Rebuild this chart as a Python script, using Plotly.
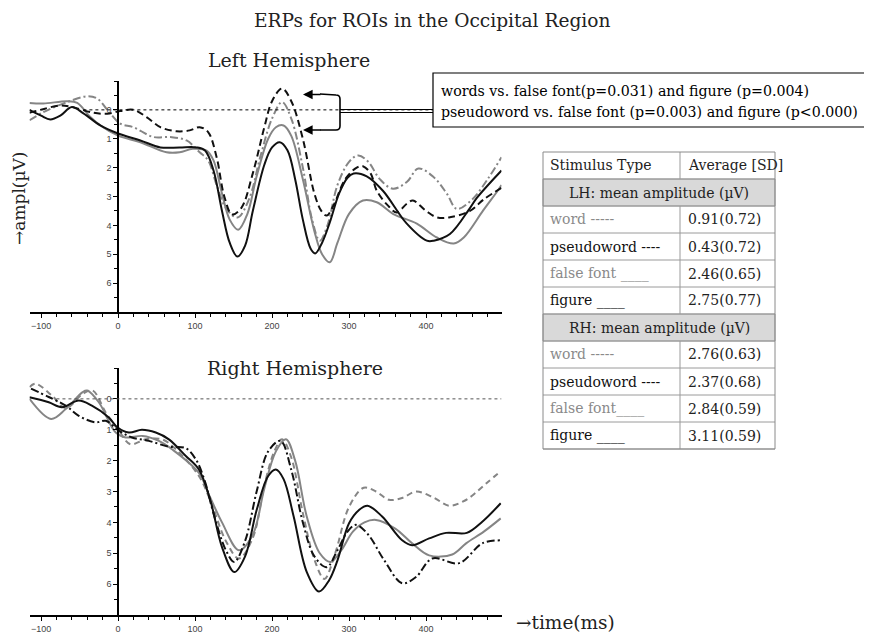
import plotly.graph_objects as go

# page body margin compensation (browser default 8px)
OX, OY = 8, 8
W, H = 872, 634
FW, FH = W - OX, H - OY


def px(x):
    return (x - OX) / FW


def py(y):
    return 1 - (y - OY) / FH


# ---------------- data: Left Hemisphere ----------------
lh_word_t = [-115, -97, -66, -40, -27, -10, 3, 20, 46, 68, 89, 106, 117, 128, 140, 155, 170, 185, 200, 213, 225, 240, 252, 262, 272, 285, 300, 312, 325, 340, 357, 375, 390, 410, 427, 440, 460, 480, 498]
lh_word_v = [0.36, 0.08, -0.27, -0.47, -0.39, 0.13, 0.48, 0.6, 0.94, 0.94, 1.06, 1.47, 1.75, 2.6, 3.4, 3.73, 3.1, 1.6, 0.3, -0.27, 0.3, 2.0, 3.8, 4.53, 4.0, 2.6, 1.8, 1.58, 1.8, 2.4, 2.73, 2.5, 2.03, 2.33, 2.9, 3.43, 3.1, 2.4, 1.64]

lh_pseudo_t = [-115, -101, -75, -60, -32, -14, 3, 20, 37, 55, 76, 93, 106, 117, 128, 138, 148, 160, 175, 190, 200, 213, 225, 240, 255, 264, 271, 280, 295, 310, 318, 328, 336, 350, 362, 375, 383, 400, 414, 431, 457, 475, 498]
lh_pseudo_v = [0.1, 0.0, -0.15, -0.1, 0.1, 0.13, 0.04, 0.0, 0.25, 0.6, 0.74, 0.71, 0.6, 0.77, 1.64, 3.0, 3.62, 3.4, 2.2, 0.6, -0.3, -0.74, -0.3, 1.0, 2.9, 3.5, 3.66, 3.3, 2.4, 2.0, 1.95, 2.2, 2.8, 3.3, 3.55, 3.25, 3.14, 3.5, 3.72, 3.72, 3.5, 3.1, 2.7]

lh_false_t = [-115, -97, -66, -53, -36, -23, 0, 29, 63, 80, 97, 115, 124, 135, 145, 156, 168, 180, 195, 205, 215, 225, 240, 255, 265, 275, 285, 300, 318, 336, 357, 388, 414, 436, 449, 474, 493, 498]
lh_false_v = [-0.24, -0.22, -0.3, -0.24, 0.25, 0.54, 0.89, 1.12, 1.47, 1.47, 1.35, 1.41, 1.75, 2.9, 3.8, 4.15, 3.6, 2.3, 1.0, 0.6, 0.54, 0.9, 2.4, 4.2, 5.0, 5.28, 4.6, 3.6, 3.14, 3.2, 3.6, 3.94, 4.42, 4.63, 4.42, 3.49, 2.8, 2.6]

lh_figure_t = [-115, -100, -88, -75, -60, -45, -23, 0, 29, 55, 80, 102, 113, 124, 135, 145, 155, 165, 175, 190, 200, 210, 220, 230, 240, 250, 256, 265, 275, 287, 298, 306, 323, 344, 375, 401, 410, 431, 457, 466, 498]
lh_figure_v = [0.0, 0.2, 0.33, 0.2, -0.1, 0.12, 0.54, 0.82, 1.06, 1.3, 1.3, 1.3, 1.41, 2.1, 3.5, 4.6, 5.08, 4.7, 3.5, 1.9, 1.3, 1.12, 1.4, 2.4, 3.8, 4.8, 4.97, 4.6, 3.9, 2.9, 2.35, 2.2, 2.3, 2.8, 3.94, 4.53, 4.53, 4.3, 3.4, 3.05, 2.1]

# ---------------- data: Right Hemisphere ----------------
rh_word_t = [-115, -107, -86, -68, -46, -33, -16, 1, 16, 36, 57, 75, 105, 120, 140, 157, 175, 190, 203, 213, 225, 240, 255, 268, 282, 300, 319, 335, 352, 370, 387, 410, 430, 450, 464, 480, 497]
rh_word_v = [-0.38, -0.49, -0.11, 0.3, -0.16, -0.27, 0.44, 1.03, 1.47, 1.31, 1.31, 1.63, 2.5, 3.3, 4.6, 5.17, 4.5, 2.8, 1.7, 1.31, 1.9, 3.7, 5.2, 5.83, 5.0, 3.5, 2.88, 3.0, 3.27, 3.2, 3.0, 3.2, 3.46, 3.3, 3.05, 2.7, 2.34]

rh_pseudo_t = [-113, -90, -68, -51, -29, -16, 1, 18, 40, 66, 88, 101, 112, 125, 140, 151, 165, 180, 195, 211, 225, 240, 255, 271, 285, 298, 309, 325, 345, 369, 387, 408, 443, 473, 497]
rh_pseudo_v = [-0.33, -0.06, 0.22, 0.55, 0.76, 0.71, 1.03, 1.25, 1.36, 1.55, 1.6, 1.96, 2.61, 3.8, 4.9, 5.28, 4.6, 3.0, 1.7, 1.36, 2.3, 4.0, 5.1, 5.45, 4.9, 4.3, 4.08, 4.4, 5.2, 5.97, 5.77, 5.17, 5.32, 4.68, 4.58]

rh_false_t = [-115, -87, -68, -46, -40, -25, -3, 10, 32, 53, 70, 105, 118, 135, 157, 175, 190, 205, 218, 230, 245, 262, 276, 290, 305, 320, 335, 360, 382, 404, 434, 452, 475, 497]
rh_false_v = [0.0, 0.65, 0.33, -0.22, -0.27, 0.11, 1.09, 1.25, 1.2, 1.36, 1.63, 2.4, 3.1, 4.0, 4.9, 4.4, 2.9, 1.7, 1.31, 2.0, 3.8, 5.0, 5.28, 4.9, 4.3, 4.0, 3.92, 4.2, 4.68, 5.07, 5.04, 4.68, 4.3, 3.87]

rh_figure_t = [-115, -90, -73, -51, -34, -12, -1, 14, 31, 49, 66, 88, 105, 120, 135, 151, 165, 180, 195, 205, 215, 228, 245, 261, 274, 285, 300, 313, 324, 343, 369, 382, 404, 426, 453, 473, 497]
rh_figure_v = [-0.05, 0.11, 0.27, 0.05, 0.22, 0.6, 0.92, 1.09, 1.0, 1.09, 1.31, 1.85, 2.29, 3.3, 4.8, 5.61, 5.1, 3.6, 2.5, 2.29, 2.6, 3.8, 5.6, 6.24, 5.88, 5.23, 4.03, 3.6, 3.46, 3.81, 4.58, 4.74, 4.52, 4.34, 4.34, 3.98, 3.38]

# ---------------- axis ticks ----------------
x_ticks = [-100, 0, 100, 200, 300, 400]
y_ticks = [0, 1, 2, 3, 4, 5, 6]

# ---------------- table data ----------------
table_header = ["Stimulus Type", "Average [SD]"]
lh_group = "LH: mean amplitude (µV)"
rh_group = "RH: mean amplitude (µV)"
lh_labels = ["word -----", "pseudoword ----", "false font ____", "figure ____"]
lh_values = ["0.91(0.72)", "0.43(0.72)", "2.46(0.65)", "2.75(0.77)"]
rh_labels = ["word -----", "pseudoword ----", "false font____", "figure ____"]
rh_values = ["2.76(0.63)", "2.37(0.68)", "2.84(0.59)", "3.11(0.59)"]
label_colors = ["#8a8a8a", "#111111", "#8a8a8a", "#111111"]

note_lines = [
    "words vs. false font(p=0.031) and figure (p=0.004)",
    "pseudoword vs. false font (p=0.003) and figure (p<0.000)",
]

GRAY = "#858585"
BLACK = "#111111"

fig = go.Figure()

styles_top = [
    (lh_word_t, lh_word_v, GRAY, "8px,3px,2px,3px"),
    (lh_false_t, lh_false_v, GRAY, "solid"),
    (lh_pseudo_t, lh_pseudo_v, BLACK, "7px,4px"),
    (lh_figure_t, lh_figure_v, BLACK, "solid"),
]
styles_bot = [
    (rh_word_t, rh_word_v, GRAY, "6px,4px"),
    (rh_false_t, rh_false_v, GRAY, "solid"),
    (rh_pseudo_t, rh_pseudo_v, BLACK, "8px,3px,2px,3px"),
    (rh_figure_t, rh_figure_v, BLACK, "solid"),
]
for t, v, c, d in styles_top:
    fig.add_trace(go.Scatter(x=t, y=v, mode="lines", xaxis="x", yaxis="y",
                             line=dict(color=c, width=2, dash=d, shape="spline", smoothing=1),
                             showlegend=False, hoverinfo="skip"))
for t, v, c, d in styles_bot:
    fig.add_trace(go.Scatter(x=t, y=v, mode="lines", xaxis="x2", yaxis="y2",
                             line=dict(color=c, width=2, dash=d, shape="spline", smoothing=1),
                             showlegend=False, hoverinfo="skip"))

XR = [-115, 498]
x_dom = [px(29.5), px(501.5)]
zero_pos = px(118)
tickfont = dict(family="Liberation Sans, Arial", size=9, color="#444444")


def xaxis_cfg(anchor):
    return dict(domain=x_dom, range=XR, anchor=anchor, showgrid=False, zeroline=False,
                showline=True, linecolor="black", linewidth=1.5,
                tickvals=x_ticks, ticks="outside", ticklen=4, tickcolor="black",
                tickfont=tickfont,
                minor=dict(dtick=20, tick0=0, ticks="outside", ticklen=3, tickcolor="black"))


def yaxis_cfg(dom):
    return dict(domain=dom, range=[7, -1], anchor="free", position=zero_pos,
                showgrid=False, zeroline=False, showline=True, linecolor="black", linewidth=1.5,
                tickvals=y_ticks, ticks="outside", ticklen=4, tickcolor="black",
                tickfont=tickfont,
                minor=dict(dtick=0.5, tick0=0, ticks="outside", ticklen=3, tickcolor="black"))


fig.update_layout(
    width=FW, height=FH, margin=dict(l=0, r=0, t=0, b=0),
    paper_bgcolor="white", plot_bgcolor="rgba(0,0,0,0)",
    xaxis=xaxis_cfg("y"), yaxis=yaxis_cfg([py(312), py(81)]),
    xaxis2=xaxis_cfg("y2"), yaxis2=yaxis_cfg([py(615), py(368)]),
)

shapes = []
annots = []
# zero dotted lines
shapes.append(dict(type="line", xref="x", yref="y", x0=-45, x1=498, y0=0, y1=0,
                   line=dict(color="black", width=1, dash="dot")))
shapes.append(dict(type="line", xref="x2", yref="y2", x0=-80, x1=498, y0=0, y1=0,
                   line=dict(color="#555555", width=1, dash="dot")))

SERIF = "DejaVu Serif, serif"


def text_at(s, x, y, size, color="#222", xanchor="center", angle=0):
    annots.append(dict(text=s, x=px(x), y=py(y), xref="paper", yref="paper", xanchor=xanchor,
                       yanchor="middle", textangle=angle, showarrow=False,
                       font=dict(family=SERIF, size=size, color=color)))


# titles
text_at("ERPs for ROIs in the Occipital Region", 432, 20, 18.6)
text_at("Left Hemisphere", 289, 60, 19)
text_at("Right Hemisphere", 295, 368, 19)
text_at("→ampl(µV)", 19, 199, 17, angle=-90)
text_at("→time(ms)", 565, 622, 18.5)

# note box
shapes.append(dict(type="rect", xref="paper", yref="paper", x0=px(433), x1=px(870), y0=py(127), y1=py(73),
                   line=dict(color="black", width=1.2), fillcolor="white"))
for i, line in enumerate(note_lines):
    text_at(line, 439, 91 + 21 * i, 14.2, color="black", xanchor="left")
# connector double line
for yy in (109.5, 112.5):
    shapes.append(dict(type="line", xref="paper", yref="paper", x0=px(340), x1=px(433), y0=py(yy), y1=py(yy),
                       line=dict(color="black", width=1.2)))
# bracket
shapes.append(dict(type="path", xref="paper", yref="paper",
                   path="M %f,%f L %f,%f Q %f,%f %f,%f L %f,%f Q %f,%f %f,%f L %f,%f" % (
                       px(320), py(94), px(336), py(95), px(340), py(95), px(340), py(99),
                       px(340), py(126), px(340), py(130), px(336), py(130), px(320), py(130)),
                   line=dict(color="black", width=1.6)))
for yy in (94.5, 130):
    annots.append(dict(x=px(303), y=py(yy), ax=19, ay=0, xref="paper", yref="paper",
                       axref="pixel", ayref="pixel", text="", showarrow=True, arrowhead=2,
                       arrowsize=1.2, arrowwidth=1.6, arrowcolor="black"))

# table
TL, TR, TD = 543, 775, 680
top = 152
rh_ = 27
rows = [("h",)] + [("g", lh_group)] + [("r", a, b, c) for a, b, c in zip(lh_labels, lh_values, label_colors)] \
       + [("g", rh_group)] + [("r", a, b, c) for a, b, c in zip(rh_labels, rh_values, label_colors)]
TFONT = 14
for i, r in enumerate(rows):
    y0 = top + i * rh_
    y1 = y0 + rh_
    yc = (y0 + y1) / 2
    if r[0] == "g":
        shapes.append(dict(type="rect", xref="paper", yref="paper", x0=px(TL), x1=px(TR), y0=py(y1), y1=py(y0),
                           line=dict(color="#9a9a9a", width=1), fillcolor="#d9d9d9", layer="below"))
        text_at(r[1], (TL + TR) / 2, yc, TFONT)
    else:
        shapes.append(dict(type="line", xref="paper", yref="paper", x0=px(TD), x1=px(TD), y0=py(y1), y1=py(y0),
                           line=dict(color="#9a9a9a", width=1)))
        if r[0] == "h":
            l1, l2, c = table_header[0], table_header[1], "#222"
        else:
            l1, l2, c = r[1], r[2], r[3]
        text_at(l1, TL + 5, yc, TFONT, color=c, xanchor="left")
        text_at(l2, TD + 6, yc, TFONT, xanchor="left")
    shapes.append(dict(type="line", xref="paper", yref="paper", x0=px(TL), x1=px(TR), y0=py(y1), y1=py(y1),
                       line=dict(color="#9a9a9a", width=1)))
shapes.append(dict(type="rect", xref="paper", yref="paper", x0=px(TL), x1=px(TR),
                   y0=py(top + len(rows) * rh_), y1=py(top), line=dict(color="#8a8a8a", width=1)))

fig.update_layout(shapes=shapes, annotations=annots)
fig.write_html("out.html")
